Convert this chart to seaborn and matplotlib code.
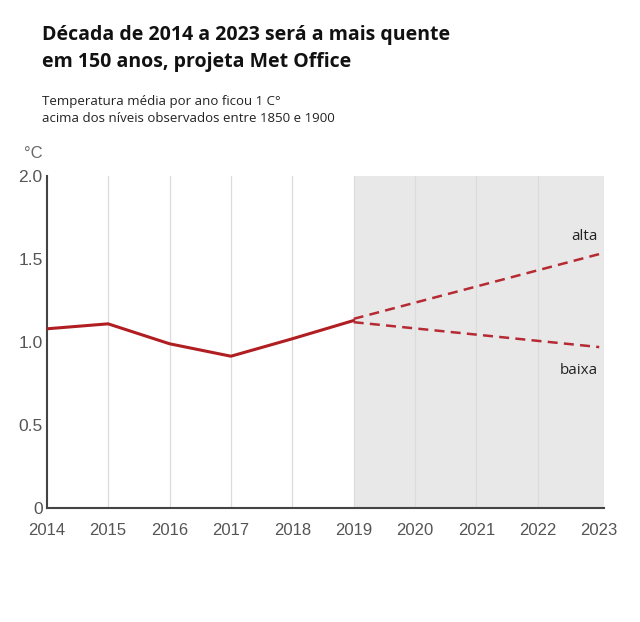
import matplotlib.pyplot as plt
import pandas as pd
import seaborn as sns

# observed annual temperature anomaly (°C above 1850-1900)
YEARS = [2014, 2015, 2016, 2017, 2018, 2019]
TEMPS = [1.08, 1.11, 0.99, 0.915, 1.02, 1.13]

# Met Office projection range to 2023
PROJ_YEARS = [2019, 2023]
PROJ_HIGH = [1.14, 1.53]
PROJ_LOW = [1.12, 0.97]

ALL_YEARS = list(range(2014, 2024))
Y_TICKS = [0, 0.5, 1.0, 1.5, 2.0]
Y_LABELS = ['0', '0.5', '1.0', '1.5', '2.0']

RED = '#b01e22'
DASH_RED = '#b52a33'

sns.set_style('white')
plt.rcParams['font.family'] = ['Liberation Sans', 'DejaVu Sans']

df = pd.DataFrame({'year': YEARS, 'temp': TEMPS})
df_hi = pd.DataFrame({'year': PROJ_YEARS, 'temp': PROJ_HIGH})
df_lo = pd.DataFrame({'year': PROJ_YEARS, 'temp': PROJ_LOW})

fig = plt.figure(figsize=(6.4, 6.22), dpi=100)
ax = fig.add_axes([0.073, 0.183, 0.871, 0.534])

# projection period shading + year gridlines (none at the last year)
ax.axvspan(2019, 2023.1, color='#e8e8e8', lw=0, zorder=0)
for yr in ALL_YEARS[1:-1]:
    ax.axvline(yr, color='#dcdcdc', lw=0.9, zorder=1)

sns.lineplot(data=df, x='year', y='temp', ax=ax, color=RED, lw=2.2, zorder=3)
sns.lineplot(data=df_hi, x='year', y='temp', ax=ax, color=DASH_RED, lw=1.8,
             linestyle=(0, (4, 2.5)), zorder=3)
sns.lineplot(data=df_lo, x='year', y='temp', ax=ax, color=DASH_RED, lw=1.8,
             linestyle=(0, (4, 2.5)), zorder=3)

ax.set_xlim(2014, 2023.08)
ax.set_ylim(0, 2.0)
ax.set_xticks(ALL_YEARS)
ax.set_xticklabels([str(y) for y in ALL_YEARS], fontsize=12, color='#555555')
ax.set_yticks(Y_TICKS)
ax.set_yticklabels(Y_LABELS, fontsize=12.5, color='#555555')
ax.set_xlabel('')
ax.set_ylabel('')

for s in ['top', 'right']:
    ax.spines[s].set_visible(False)
ax.spines['left'].set_color('#444444')
ax.spines['left'].set_linewidth(1.5)
ax.spines['bottom'].set_color('#444444')
ax.spines['bottom'].set_linewidth(1.5)
ax.spines['bottom'].set_bounds(2014, 2023.08)
ax.tick_params(axis='x', direction='out', length=6, width=1.3, color='#444444', pad=5)
ax.tick_params(axis='y', length=0, pad=3)

ax.text(2022.97, 1.59, 'alta', fontsize=11, ha='right', va='bottom',
        family=['Open Sans', 'DejaVu Sans'], color='#222222')
ax.text(2022.97, 0.83, 'baixa', fontsize=11, ha='right', va='center',
        family=['Open Sans', 'DejaVu Sans'], color='#222222')

fig.text(24 / 640, 1 - 153 / 622, '°C', fontsize=12, color='#666666', va='center')

fig.text(42 / 640, 1 - 25 / 622,
         'Década de 2014 a 2023 será a mais quente\nem 150 anos, projeta Met Office',
         fontsize=14, fontweight='bold', va='top', linespacing=1.45,
         family=['Open Sans', 'DejaVu Sans'], color='#111111')
fig.text(42 / 640, 1 - 95 / 622,
         'Temperatura média por ano ficou 1 C°\nacima dos níveis observados entre 1850 e 1900',
         fontsize=9.5, va='top', linespacing=1.4,
         family=['Open Sans', 'DejaVu Sans'], color='#222222')

fig.savefig('out.png', dpi=100, facecolor='white')
